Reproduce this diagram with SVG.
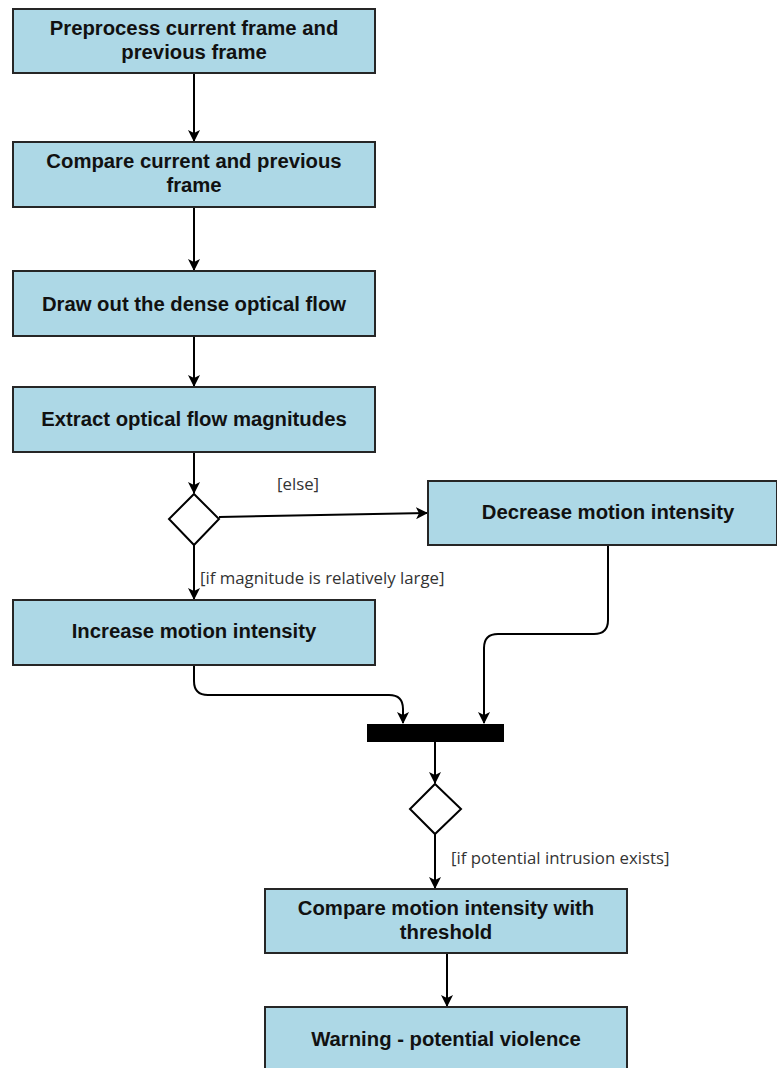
<svg xmlns="http://www.w3.org/2000/svg" width="777" height="1068" viewBox="0 0 777 1068">
  <style>
    .box { fill: #add8e6; stroke: #262626; stroke-width: 2; }
    .dia { fill: #ffffff; stroke: #000000; stroke-width: 2; }
    .bar { fill: #000000; }
    .t { font-family: "Liberation Sans", Arial, sans-serif; font-weight: bold; font-size: 20.3px; fill: #111111; text-anchor: middle; }
    .lbl { font-family: "Open Sans", "Noto Sans", sans-serif; font-size: 16.8px; fill: #333333; }
    .edge { fill: none; stroke: #000000; stroke-width: 2; }
  </style>
  <defs>
    <marker id="arr" viewBox="0 0 12 12" refX="11" refY="6" markerWidth="12" markerHeight="12" markerUnits="userSpaceOnUse" orient="auto">
      <path d="M0,0 L12,6 L0,12 L3,6 Z" fill="#000000"/>
    </marker>
  </defs>

  <g id="connectors">
    <path class="edge" d="M194,73 V141" marker-end="url(#arr)"/>
    <path class="edge" d="M194,207 V270" marker-end="url(#arr)"/>
    <path class="edge" d="M194,336 V386" marker-end="url(#arr)"/>
    <path class="edge" d="M194,452 V493" marker-end="url(#arr)"/>
    <path class="edge" d="M219,517 L427,513" marker-end="url(#arr)"/>
    <path class="edge" d="M194,545 V599" marker-end="url(#arr)"/>
    <path class="edge" d="M608,545 V620 Q608,634 594,634 H498 Q484,634 484,648 V723" marker-end="url(#arr)"/>
    <path class="edge" d="M194,665 V681 Q194,695 208,695 H389 Q403,695 403,709 V723" marker-end="url(#arr)"/>
    <path class="edge" d="M435,742 V783" marker-end="url(#arr)"/>
    <path class="edge" d="M435,834 V888" marker-end="url(#arr)"/>
    <path class="edge" d="M447,953 V1006" marker-end="url(#arr)"/>
  </g>

  <g id="preprocess">
    <rect class="box" x="13" y="9" width="362" height="64"/>
    <text class="t" x="194" y="35">Preprocess current frame and</text>
    <text class="t" x="194" y="59">previous frame</text>
  </g>
  <g id="compare-frames">
    <rect class="box" x="13" y="142" width="362" height="65"/>
    <text class="t" x="194" y="168">Compare current and previous</text>
    <text class="t" x="194" y="192">frame</text>
  </g>
  <g id="optical-flow">
    <rect class="box" x="13" y="271" width="362" height="65"/>
    <text class="t" x="194" y="311">Draw out the dense optical flow</text>
  </g>
  <g id="magnitudes">
    <rect class="box" x="13" y="387" width="362" height="65"/>
    <text class="t" x="194" y="426">Extract optical flow magnitudes</text>
  </g>
  <g id="decision-magnitude">
    <path class="dia" d="M194,494 L219,519 L194,545 L169,519 Z"/>
    <text class="lbl" x="277" y="490">[else]</text>
    <text class="lbl" x="200" y="584">[if magnitude is relatively large]</text>
  </g>
  <g id="decrease">
    <rect class="box" x="428" y="481" width="349" height="64"/>
    <text class="t" x="608" y="519">Decrease motion intensity</text>
  </g>
  <g id="increase">
    <rect class="box" x="13" y="600" width="362" height="65"/>
    <text class="t" x="194" y="638">Increase motion intensity</text>
  </g>
  <g id="join">
    <rect class="bar" x="367" y="724" width="137" height="18"/>
  </g>
  <g id="decision-intrusion">
    <path class="dia" d="M435,784 L461,809 L435,834 L410,809 Z"/>
    <text class="lbl" x="451" y="864">[if potential intrusion exists]</text>
  </g>
  <g id="compare-threshold">
    <rect class="box" x="265" y="889" width="362" height="64"/>
    <text class="t" x="446" y="915">Compare motion intensity with</text>
    <text class="t" x="446" y="939">threshold</text>
  </g>
  <g id="warning">
    <rect class="box" x="265" y="1007" width="362" height="70"/>
    <text class="t" x="446" y="1046">Warning - potential violence</text>
  </g>
</svg>
